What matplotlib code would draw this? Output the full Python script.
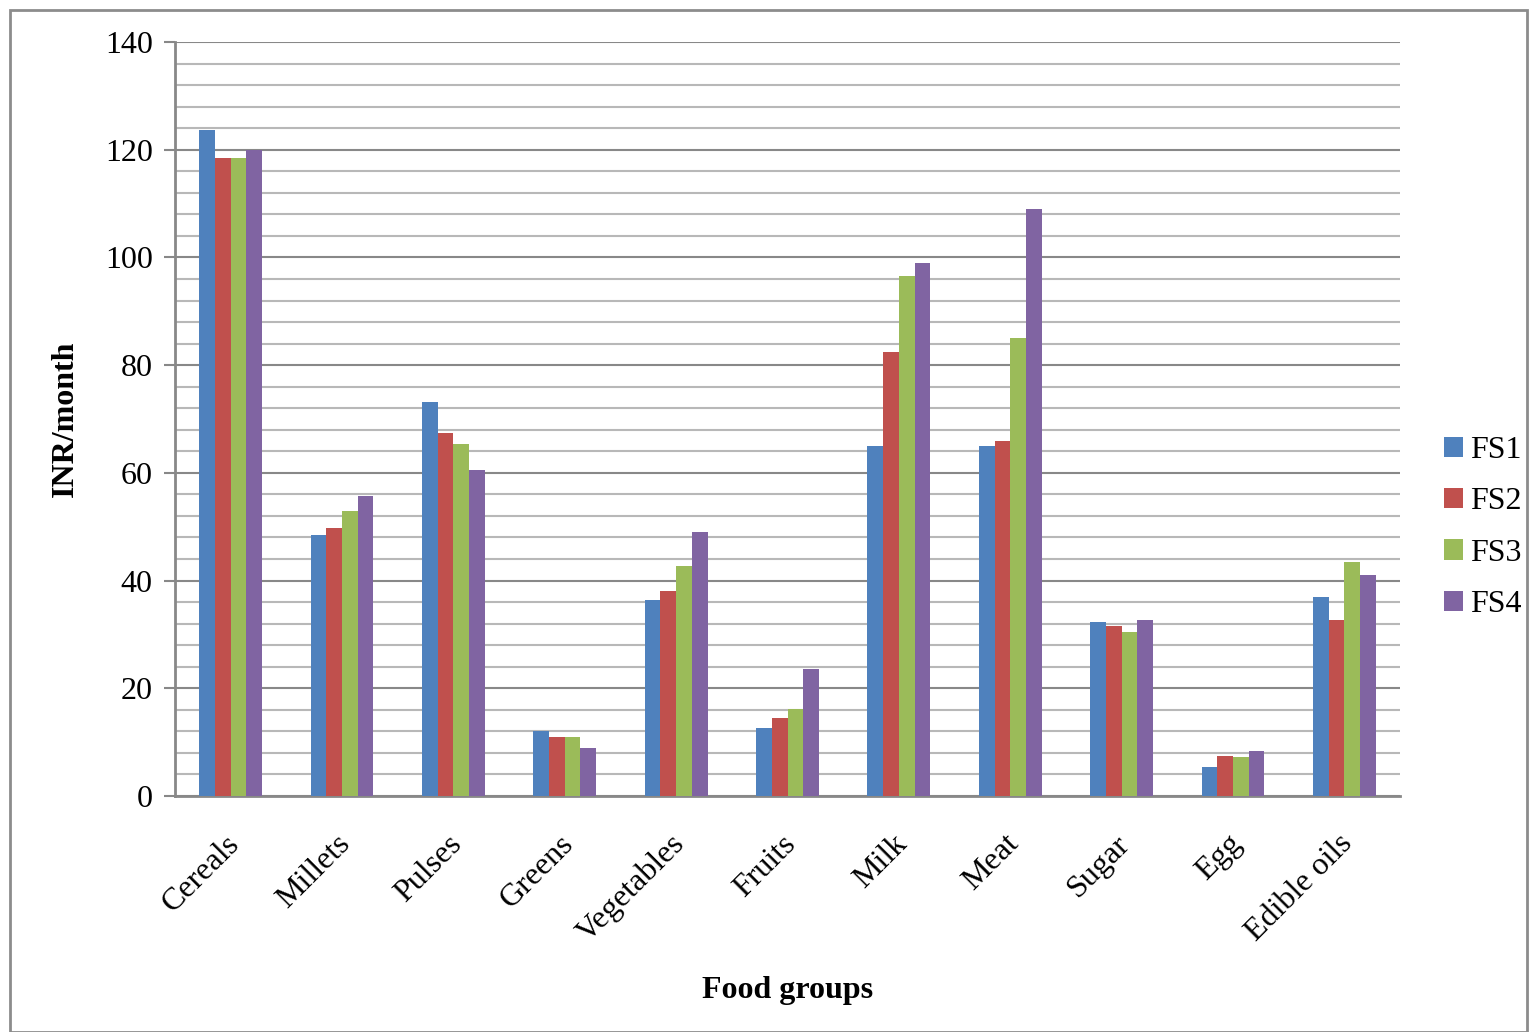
import numpy as np
import matplotlib.pyplot as plt
import matplotlib.transforms as mtrans
from matplotlib.patches import Rectangle

categories = ['Cereals', 'Millets', 'Pulses', 'Greens', 'Vegetables', 'Fruits',
              'Milk', 'Meat', 'Sugar', 'Egg', 'Edible oils']
fs1 = [123.7, 48.5, 73.2, 12.1, 36.4, 12.6, 65.0, 65.0, 32.3, 5.4, 36.9]
fs2 = [118.5, 49.8, 67.4, 11.0, 38.1, 14.5, 82.4, 65.9, 31.6, 7.4, 32.7]
fs3 = [118.5, 52.9, 65.4, 11.0, 42.7, 16.2, 96.5, 85.0, 30.4, 7.2, 43.4]
fs4 = [120.0, 55.7, 60.5, 8.9, 49.0, 23.6, 99.0, 109.0, 32.7, 8.4, 41.0]
series = ['FS1', 'FS2', 'FS3', 'FS4']
colors = ['#4f81bd', '#c0504d', '#9bbb59', '#8064a2']

plt.rcParams['font.family'] = ['Liberation Serif', 'DejaVu Serif']

fig = plt.figure(figsize=(15.29, 10.32), dpi=100)
ax = fig.add_axes([175/1529, 1 - 796/1032, (1400-175)/1529, (796-42)/1032])

# outer frame of the figure
fig.patches.append(Rectangle((10/1529, 0), 1 - 10/1529 - 0.001, 1 - 10/1032,
                             transform=fig.transFigure, fill=False,
                             edgecolor='#8c8c8c', linewidth=2))

x = np.arange(len(categories))
w = 0.141
for i, (vals, name) in enumerate(zip([fs1, fs2, fs3, fs4], series)):
    ax.bar(x + (i - 1.5) * w, vals, w, color=colors[i], label=name, zorder=3)

ax.set_xlim(-0.5, len(categories) - 0.5)
ax.set_ylim(0, 140)
ax.set_yticks(np.arange(0, 141, 20))
ax.set_yticks(np.arange(0, 141, 4), minor=True)
ax.grid(axis='y', which='major', color='#888888', linewidth=1.5, zorder=0)
ax.grid(axis='y', which='minor', color='#b8b8b8', linewidth=1.5, zorder=0)
ax.tick_params(axis='y', which='major', length=8, width=1.5, color='#888888',
               labelsize=23, pad=8)
ax.tick_params(axis='y', which='minor', length=0)
ax.tick_params(axis='x', length=0, labelsize=23, pad=24)
ax.set_xticks(x)
ax.set_xticklabels(categories, rotation=45, ha='right', rotation_mode='anchor')
shift = mtrans.ScaledTranslation(-6/100, 0, fig.dpi_scale_trans)
for lbl in ax.get_xticklabels():
    lbl.set_transform(lbl.get_transform() + shift)

for s in ['top', 'right']:
    ax.spines[s].set_visible(False)
for s in ['left', 'bottom']:
    ax.spines[s].set_color('#888888')
    ax.spines[s].set_linewidth(2)

ax.set_ylabel('INR/month', fontsize=23, fontweight='bold', labelpad=18)
ax.set_xlabel('Food groups', fontsize=23, fontweight='bold', labelpad=20)

ax.legend(loc='center left', bbox_to_anchor=(1.036, 0.356), frameon=False,
          fontsize=23, handlelength=0.6, handleheight=0.6, handletextpad=0.2,
          labelspacing=0.7, borderpad=0, borderaxespad=0)

fig.savefig('out.png', dpi=100)
